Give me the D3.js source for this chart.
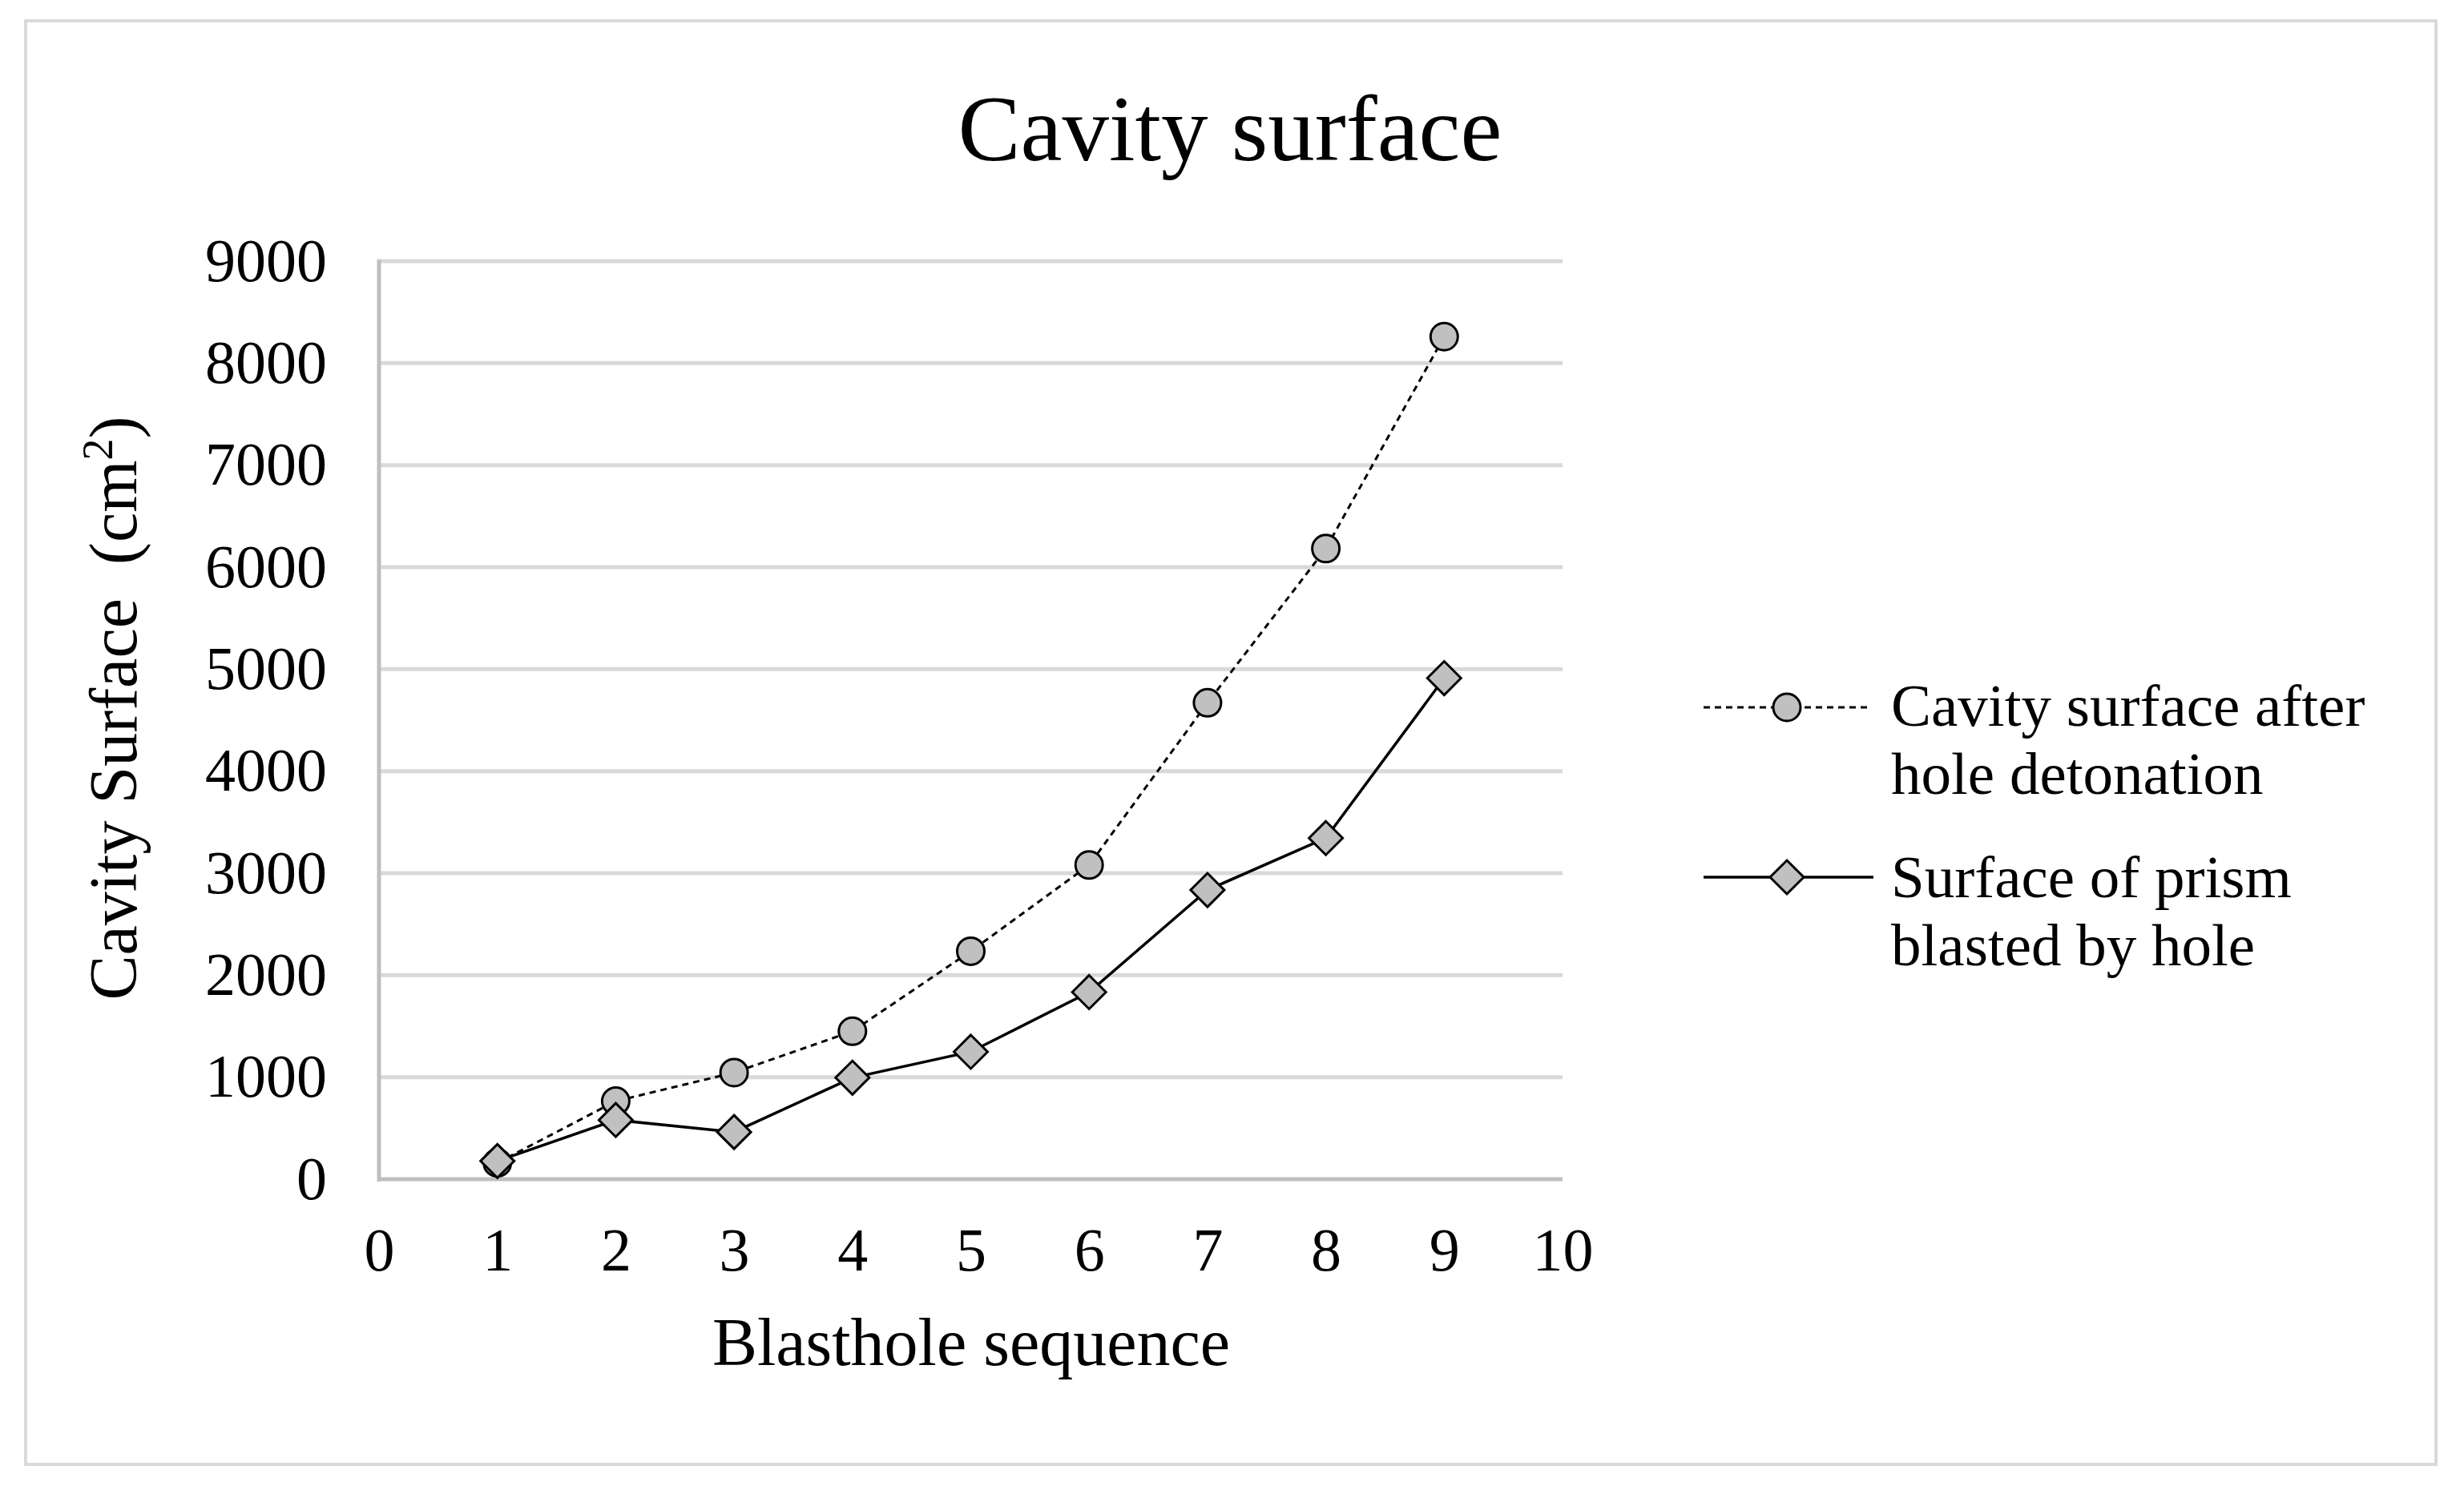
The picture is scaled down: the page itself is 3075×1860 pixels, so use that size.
<!DOCTYPE html>
<html>
<head>
<meta charset="utf-8">
<script src="https://cdn.jsdelivr.net/npm/d3@7"></script>
<style>
  html, body { margin: 0; padding: 0; background: #fff; }
  svg { display: block; }
  text { font-family: "Liberation Serif", "Times New Roman", serif; fill: #000; }
</style>
</head>
<body>
<script>
// ---- Data ----
const blastholes = [1, 2, 3, 4, 5, 6, 7, 8, 9];
const cavityAfterDetonation = [160, 765, 1045, 1450, 2235, 3080, 4670, 6182, 8260];
const prismSurface = [178, 580, 462, 995, 1249, 1834, 2835, 3344, 4912];
const xTicks = [0, 1, 2, 3, 4, 5, 6, 7, 8, 9, 10];
const yTicks = [0, 1000, 2000, 3000, 4000, 5000, 6000, 7000, 8000, 9000];
const seriesNames = [["Cavity surface after", "hole detonation"], ["Surface of prism", "blasted by hole"]];
const chartTitle = "Cavity surface";
const xTitle = "Blasthole sequence";

// ---- Layout ----
const W = 3075, H = 1860;
const plot = { left: 473, right: 1950, top: 326, bottom: 1472 };

const svg = d3.select("body").append("svg").attr("width", W).attr("height", H);

// outer frame
svg.append("rect").attr("x", 32).attr("y", 26).attr("width", 3008).attr("height", 1802)
  .attr("fill", "#fff").attr("stroke", "#d9d9d9").attr("stroke-width", 4);

const x = d3.scaleLinear().domain([0, 10]).range([plot.left, plot.right]);
const y = d3.scaleLinear().domain([0, 9000]).range([plot.bottom, plot.top]);

// gridlines
svg.append("g").selectAll("line").data(yTicks.filter(d => d > 0)).join("line")
  .attr("x1", plot.left).attr("x2", plot.right)
  .attr("y1", d => y(d)).attr("y2", d => y(d))
  .attr("stroke", "#d9d9d9").attr("stroke-width", 5);

// axes lines
svg.append("line").attr("x1", plot.left).attr("x2", plot.left)
  .attr("y1", plot.top - 2).attr("y2", plot.bottom + 3)
  .attr("stroke", "#bfbfbf").attr("stroke-width", 5);
svg.append("line").attr("x1", plot.left - 2).attr("x2", plot.right)
  .attr("y1", plot.bottom).attr("y2", plot.bottom)
  .attr("stroke", "#bfbfbf").attr("stroke-width", 5);

// axes labels via d3 axes
const yAxis = d3.axisLeft(y).tickValues(yTicks).tickSize(0).tickPadding(65).tickFormat(d3.format("d"));
const gy = svg.append("g").attr("transform", `translate(${plot.left},0)`).call(yAxis);
gy.select(".domain").remove();
gy.selectAll("text").attr("font-size", 76).attr("font-family", "Liberation Serif").attr("fill", "#000");

const xAxis = d3.axisBottom(x).tickValues(xTicks).tickSize(0).tickPadding(60).tickFormat(d3.format("d"));
const gx = svg.append("g").attr("transform", `translate(0,${plot.bottom})`).call(xAxis);
gx.select(".domain").remove();
gx.selectAll("text").attr("font-size", 76).attr("font-family", "Liberation Serif").attr("fill", "#000");

// title
svg.append("text").attr("x", 1535).attr("y", 200).attr("text-anchor", "middle")
  .attr("font-size", 117).text(chartTitle);

// x title
svg.append("text").attr("x", 1212).attr("y", 1704).attr("text-anchor", "middle")
  .attr("font-size", 84).text(xTitle);

// y title
const yt = svg.append("text").attr("transform", "translate(170,884) rotate(-90)")
  .attr("text-anchor", "middle").attr("font-size", 84);
yt.append("tspan").text("Cavity Surface\u00a0\u00a0(cm");
yt.append("tspan").attr("font-size", 54).attr("dy", -30).text("2");
yt.append("tspan").attr("dy", 30).text(")");

// lines
const line = d3.line().x((d, i) => x(blastholes[i])).y(d => y(d));
svg.append("path").datum(cavityAfterDetonation).attr("d", line)
  .attr("fill", "none").attr("stroke", "#000").attr("stroke-width", 3)
  .attr("stroke-dasharray", "8,6");
svg.append("path").datum(prismSurface).attr("d", line)
  .attr("fill", "none").attr("stroke", "#000").attr("stroke-width", 3.5);

const fillGray = "#c0c0c0";
const diamond = (cx, cy, r) => `M${cx},${cy - r}L${cx + r},${cy}L${cx},${cy + r}L${cx - r},${cy}Z`;

// markers series 1 (circles)
svg.append("g").selectAll("circle").data(cavityAfterDetonation).join("circle")
  .attr("cx", (d, i) => x(blastholes[i])).attr("cy", d => y(d)).attr("r", 17)
  .attr("fill", fillGray).attr("stroke", "#000").attr("stroke-width", 3);

// markers series 2 (diamonds)
svg.append("g").selectAll("path").data(prismSurface).join("path")
  .attr("d", (d, i) => diamond(x(blastholes[i]), y(d), 21))
  .attr("fill", fillGray).attr("stroke", "#000").attr("stroke-width", 3);

// legend
const lg = svg.append("g");
const legendY = [883, 1095];
const lineX1 = 2126, lineX2 = 2332, markX = 2230, textX = 2360;
// entry 1
lg.append("line").attr("x1", lineX1).attr("x2", lineX2).attr("y1", legendY[0]).attr("y2", legendY[0])
  .attr("stroke", "#000").attr("stroke-width", 3).attr("stroke-dasharray", "8,6");
lg.append("circle").attr("cx", markX).attr("cy", legendY[0]).attr("r", 17)
  .attr("fill", fillGray).attr("stroke", "#000").attr("stroke-width", 3);
// entry 2
lg.append("line").attr("x1", lineX1).attr("x2", lineX2 + 6).attr("y1", legendY[1]).attr("y2", legendY[1])
  .attr("stroke", "#000").attr("stroke-width", 3.5);
lg.append("path").attr("d", diamond(markX, legendY[1], 21))
  .attr("fill", fillGray).attr("stroke", "#000").attr("stroke-width", 3);

seriesNames.forEach((lines, k) => {
  const base = k === 0 ? 906 : 1120;
  lines.forEach((t, j) => {
    lg.append("text").attr("x", textX).attr("y", base + j * 85).attr("font-size", 75).text(t);
  });
});
</script>
</body>
</html>
